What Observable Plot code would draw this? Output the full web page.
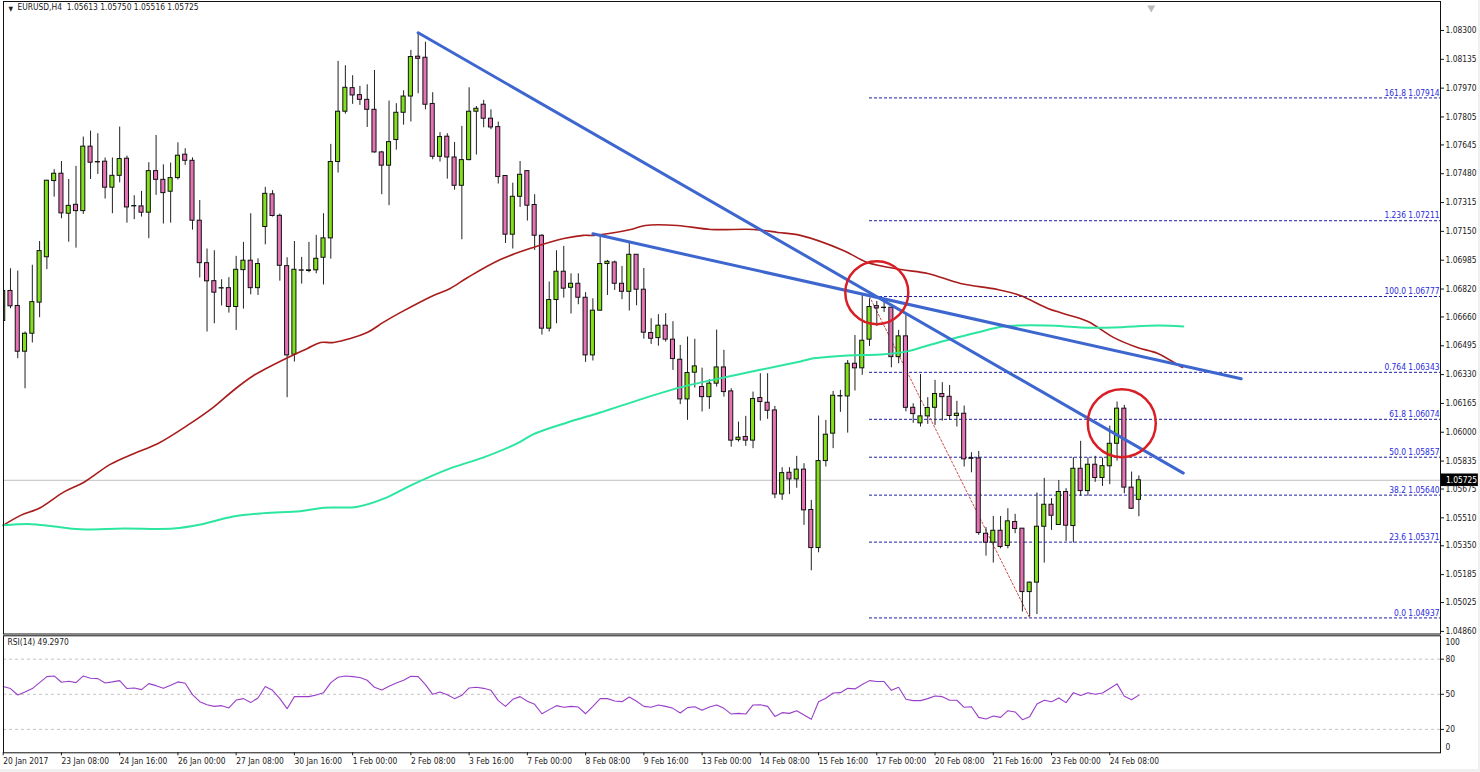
<!DOCTYPE html>
<html><head><meta charset="utf-8">
<script src="https://cdn.jsdelivr.net/npm/d3@7"></script>
<script src="https://cdn.jsdelivr.net/npm/@observablehq/plot@0.6"></script>
<style>
html,body{margin:0;padding:0;background:#f0f0f0;width:1480px;height:772px;overflow:hidden}
#chart{position:absolute;left:0;top:0;width:1478px;height:769px;background:#fff}
#chart svg{display:block;position:absolute;left:0}
</style></head><body><div id="chart"></div>
<script>
// Prices in points (1e-5), one entry per H4 bar
const opens=[106637,106809,106723,106461,106564,106742,107002,107438,107480,107251,107302,107266,107635,107547,107549,107400,107468,107566,107295,107293,107257,107495,107445,107377,107455,107589,107554,107211,106968,106865,106825,106825,106717,106928,106982,106825,107175,107362,107239,106951,106444,106927,106927,106927,106999,107110,107547,107835,107970,107930,107903,107846,107602,107526,107673,107829,107922,108150,108144,107879,107577,107692,107573,107411,107558,107835,107875,107795,107747,107467,107131,107348,107495,107301,107125,106593,106757,106919,106827,106850,106770,106440,106696,106963,106972,106850,106804,107016,106816,106568,106539,106610,106530,106415,106188,106341,106259,106201,106278,106371,106234,105955,105973,105952,106196,106169,106125,105644,105768,105730,105786,105555,105337,105835,105992,106207,106205,106392,106366,106530,106722,106713,106713,106430,106549,106140,106051,106091,106140,106219,106203,106093,106106,105852,105850,105419,105368,105436,105349,105486,105448,105085,105139,105459,105585,105469,105658,105463,105791,105663,105814,105738,105805,105934,106135,105683,105613];
const highs=[106873,106936,106923,106574,106956,107092,107442,107503,107550,107447,107522,107690,107724,107709,107570,107570,107747,107581,107354,107379,107543,107699,107531,107541,107657,107623,107571,107327,107049,107039,106873,106885,107007,107087,107251,106993,107402,107383,107249,106999,107092,107001,107087,107127,107251,107648,108123,108098,108041,107980,107989,108071,107608,107896,107881,107955,108186,108287,108233,107944,107715,107709,107659,107751,107972,107865,107900,107846,107776,107468,107426,107550,107497,107360,107131,106860,107039,107064,106907,106907,106799,106764,107127,106984,106980,106949,107083,107018,106938,106650,106673,106679,106633,106497,106545,106532,106367,106301,106585,106469,106249,106058,106091,106230,106335,106335,106148,105797,105797,105862,105820,105610,106093,106068,106234,106240,106411,106554,106783,106764,106749,106745,106717,106583,106669,106163,106331,106198,106297,106284,106268,106177,106150,105883,105890,105454,105518,105518,105562,105530,105448,105143,105652,105736,105620,105724,105677,105854,105948,105854,105862,105852,106035,106173,106154,105772,105750];
const lows=[106516,106707,106421,106249,106511,106656,106931,107346,107222,107088,107054,107247,107447,107476,107335,107251,107428,107197,107217,107232,107108,107356,107192,107197,107444,107528,107157,106883,106574,106621,106723,106682,106583,106705,106787,106783,107073,107232,106865,106198,106402,106848,106913,106907,106843,106991,107484,107821,107877,107871,107745,107598,107360,107297,107615,107758,107776,107938,107846,107560,107547,107449,107386,107102,107554,107587,107743,107732,107421,107081,107049,107287,107209,107041,106556,106574,106621,106768,106677,106730,106400,106408,106694,106783,106812,106759,106694,106724,106533,106503,106493,106516,106354,106158,106068,106253,106116,106131,106259,106201,105915,105944,105919,105906,106064,106074,105620,105610,105644,105679,105467,105207,105310,105801,105906,106114,105995,106236,106326,106491,106606,106686,106369,106392,106117,106051,106030,106045,106039,106064,106068,106030,105801,105768,105410,105291,105251,105333,105333,105419,104971,104942,104956,105251,105438,105469,105375,105366,105633,105633,105713,105690,105700,105835,105648,105558,105516];
const closes=[106809,106721,106461,106564,106745,107037,107440,107480,107253,107296,107266,107635,107543,107545,107400,107468,107564,107287,107293,107257,107495,107445,107369,107455,107583,107554,107211,106968,106864,106799,106823,106717,106930,106982,106825,106963,107365,107238,106953,106440,106930,106925,106923,106993,107110,107547,107835,107972,107928,107903,107846,107602,107526,107661,107829,107922,108148,108138,107875,107577,107690,107573,107411,107558,107835,107852,107795,107745,107461,107131,107348,107474,107297,107125,106593,106757,106919,106822,106850,106770,106440,106696,106963,106976,106850,106804,107016,106816,106570,106535,106610,106530,106419,106188,106339,106377,106201,106278,106371,106230,105952,105969,105952,106190,106173,106123,105644,105766,105730,105786,105553,105337,105835,105986,106209,106205,106392,106366,106524,106717,106709,106711,106430,106549,106140,106104,106091,106139,106219,106201,106093,106106,105845,105848,105423,105368,105436,105343,105490,105446,105085,105139,105459,105585,105522,105658,105465,105791,105663,105814,105738,105806,105934,106135,105683,105562,105725];
const rsi=[56.6,54.9,49.4,52.0,54.9,60.0,65.1,65.7,60.3,61.1,60.0,65.7,63.7,63.4,59.7,60.6,61.7,54.9,55.4,54.0,59.1,57.4,55.1,57.7,60.6,59.4,49.7,43.7,41.1,39.7,40.3,38.3,45.1,46.3,42.9,46.9,56.6,53.4,46.3,37.7,48.0,48.0,48.0,49.4,51.4,60.0,64.6,65.7,65.1,64.3,62.0,56.0,53.7,56.9,59.7,62.0,65.4,65.1,58.3,50.0,52.0,49.7,46.3,49.1,55.4,56.0,55.1,53.4,44.6,39.7,45.7,48.0,44.0,41.4,33.4,36.9,40.3,38.9,39.7,39.1,33.4,39.7,46.3,46.3,44.3,43.7,47.7,44.0,39.7,38.9,40.9,39.7,38.0,34.0,38.6,39.4,36.3,39.1,40.9,38.0,33.1,33.7,33.1,40.9,41.1,39.7,31.1,34.3,33.7,36.0,32.3,28.6,43.7,46.6,51.1,51.4,55.1,54.6,58.3,61.7,60.9,60.9,53.4,56.0,45.7,44.6,44.6,46.3,48.6,48.0,44.9,44.9,38.9,39.4,30.3,28.9,31.4,30.3,36.0,34.9,28.3,30.9,41.7,44.9,43.7,46.9,42.9,51.4,48.9,51.4,50.0,51.1,54.9,58.9,48.3,45.4,49.297];

// Moving averages: bar position, price in points
const redMaBars=[0,2.4,5.1,8.3,11.1,14.7,17.9,21.2,25.3,28.9,31.6,34.4,39.1,41.8,43.6,45.4,50,52.2,54.6,59.1,61.4,63.8,68.3,72.8,77,79.7,81.1,86.2,88.2,92.6,97.2,103.1,106.4,109.5,115.4,118.7,123.3,127,131.5,136.6,139.7,143.5,145.6,149,152.5,155.8,158.6,161.5,162];
const redMaPrices=[105467,105524,105568,105657,105714,105816,105877,105934,106039,106144,106239,106325,106428,106480,106514,106514,106571,106629,106686,106783,106823,106886,106989,107058,107109,107127,107127,107161,107184,107184,107161,107161,107144,107127,107041,106972,106932,106909,106852,106817,106783,106709,106680,106634,106543,106485,106451,106382,106371];
const greenMaBars=[0,3.8,6.5,10.6,16.5,23.4,27.1,31.6,35.8,40.8,44,48.7,52.8,56,61.4,66,70.6,72.8,77.5,82,88,93,100.3,109.5,111.3,116,120.5,124.2,127,130.5,133.8,137.4,143.5,148,152.5,158.6,162.1];
const greenMaPrices=[105467,105474,105463,105444,105449,105449,105472,105518,105537,105548,105568,105574,105629,105696,105793,105856,105936,105988,106056,106113,106194,106257,106325,106405,106423,106440,106445,106463,106497,106537,106571,106606,106611,106600,106600,106611,106606];

const fibValues=[1.07914,1.07211,1.06777,1.06343,1.06074,1.05857,1.05640,1.05371,1.04937];
const fibLabels=["161.8 1.07914","1.236 1.07211","100.0 1.06777","0.764 1.06343","61.8 1.06074","50.0 1.05857","38.2 1.05640","23.6 1.05371","0.0 1.04937"];
const fibStartBar=119;
const priceTicks=[1.083,1.08135,1.0797,1.07805,1.07645,1.0748,1.07315,1.0715,1.06985,1.0682,1.0666,1.06495,1.0633,1.06165,1.06,1.05835,1.05675,1.0551,1.0535,1.05185,1.05025,1.0486];
const timeLabels=["20 Jan 2017","23 Jan 08:00","24 Jan 16:00","26 Jan 00:00","27 Jan 08:00","30 Jan 16:00","1 Feb 00:00","2 Feb 08:00","3 Feb 16:00","7 Feb 00:00","8 Feb 08:00","9 Feb 16:00","13 Feb 00:00","14 Feb 08:00","15 Feb 16:00","17 Feb 00:00","20 Feb 08:00","21 Feb 16:00","23 Feb 00:00","24 Feb 08:00"];
const trendLines=[[{b:57,p:1.08287},{b:162.1,p:1.05766}],[{b:81,p:1.07136},{b:170.05,p:1.06306}]];
const fibDiagonal=[{b:119,p:1.06777},{b:141,p:1.04937}];
const circles=[{b:120,p:1.06799,r:31.5},{b:153.65,p:1.06052,r:34}];
const lastPrice=1.05725;
const headerText="EURUSD,H4  1.05613 1.05750 1.05516 1.05725";
const rsiText="RSI(14) 49.2970";

const pts=v=>v/1e5;
const bars=opens.map((o,i)=>({i,o:pts(o),h:pts(highs[i]),l:pts(lows[i]),c:pts(closes[i])}));
const up=bars.filter(d=>d.c>=d.o), down=bars.filter(d=>d.c<d.o);
const series=(xs,ys)=>xs.map((b,k)=>({b,p:pts(ys[k])}));
const xDomain=[0.041,197.43], FONT="'DejaVu Sans Condensed','Liberation Sans',sans-serif";
const INK="#1a1a1a",FS="8.4px",FN=8.4;
const body=(data,fill)=>Plot.rect(data,{x1:d=>d.i-0.28,x2:d=>d.i+0.28,y1:"o",y2:"c",fill,stroke:"#111",strokeWidth:1,clip:true});

const main=Plot.plot({
  width:1478,height:634,marginTop:1,marginBottom:0.5,marginLeft:3,marginRight:38,
  style:{fontFamily:FONT,fontSize:FS,color:INK,background:"transparent",overflow:"visible"},
  x:{domain:xDomain,axis:null},
  y:{domain:[1.04845,1.08466],axis:null},
  marks:[
    Plot.ruleY([lastPrice],{stroke:"#c0c0c0",strokeWidth:1}),
    Plot.ruleY(fibValues,{x1:fibStartBar,x2:xDomain[1],stroke:"#1c1ca8",strokeWidth:1,strokeDasharray:"3,2"}),
    Plot.line(fibDiagonal,{x:"b",y:"p",stroke:"#d04a4a",strokeWidth:1,strokeDasharray:"2,2"}),
    Plot.ruleX(bars,{x:"i",y1:"l",y2:"h",stroke:"#222",strokeWidth:1,clip:true}),
    body(up,"#82e01a"),
    body(down,"#e472b4"),
    Plot.line(series(redMaBars,redMaPrices),{x:"b",y:"p",stroke:"#a81c1c",strokeWidth:1.6,curve:"catmull-rom"}),
    Plot.line(series(greenMaBars,greenMaPrices),{x:"b",y:"p",stroke:"#2ce6a0",strokeWidth:2,curve:"catmull-rom"}),
    ...trendLines.map(t=>Plot.line(t,{x:"b",y:"p",stroke:"#3d66cf",strokeWidth:3})),
    ...circles.map(c=>Plot.dot([c],{x:"b",y:"p",r:c.r,stroke:"#d81f26",strokeWidth:2.5,fill:"none"})),
    Plot.text(fibValues,{y:d=>d,x:xDomain[1],text:(d,i)=>fibLabels[i],textAnchor:"end",dx:-1,dy:-5,fill:"#2a2ae0",fontSize:FN}),
    Plot.rect([lastPrice],{x1:xDomain[1]+0.12,x2:xDomain[1]+5.2,y1:d=>d-0.00036,y2:d=>d+0.00036,fill:"#000"}),
    Plot.axisY({ticks:priceTicks,anchor:"right",tickSize:3,tickPadding:2,tickFormat:d3.format(".5f"),label:null,stroke:INK,fill:INK}),
    Plot.text([lastPrice],{x:xDomain[1],y:d=>d,text:d=>d.toFixed(5),textAnchor:"start",dx:5.5,fill:"#fff",fontSize:FN}),
    Plot.frame({stroke:"#111",strokeWidth:1}),
    Plot.dot([157.7],{x:d=>d,y:1.0843,symbol:"triangle",r:3,fill:"#bbb",rotate:180}),
    Plot.text(["▼"],{frameAnchor:"top-left",dx:5,dy:5,fontSize:6.5,fill:"#222"}),
    Plot.text([headerText],{frameAnchor:"top-left",dx:14,dy:3,fill:INK,fontSize:FN})
  ]
});
main.style.top="0px";

const tickBars=timeLabels.map((_,k)=>k*8);
const rsiPlot=Plot.plot({
  width:1478,height:135,marginTop:1.3,marginBottom:16.7,marginLeft:3,marginRight:38,
  style:{fontFamily:FONT,fontSize:FS,color:INK,background:"transparent",overflow:"visible"},
  x:{domain:xDomain,axis:null},
  y:{domain:[0,100],axis:null},
  marks:[
    Plot.ruleY([80,50,20],{stroke:"#c4c4c4",strokeWidth:1,strokeDasharray:"3,3"}),
    Plot.line(rsi,{x:(d,i)=>i,y:d=>d,stroke:"#9a3fc8",strokeWidth:1.1}),
    Plot.axisY({ticks:[80,50,20],anchor:"right",tickSize:3,tickPadding:2,label:null,stroke:INK,fill:INK}),
    Plot.text([100],{x:xDomain[1],y:d=>d,text:d=>String(d),textAnchor:"start",dx:5,dy:6.5,fill:INK,fontSize:FN}),
    Plot.text([0],{x:xDomain[1],y:d=>d,text:d=>String(d),textAnchor:"start",dx:5,dy:-5.5,fill:INK,fontSize:FN}),
    Plot.axisX({ticks:tickBars,anchor:"bottom",tickSize:3,tickPadding:2,textAnchor:"start",tickFormat:b=>timeLabels[b/8],label:null,stroke:INK,fill:INK}),
    Plot.frame({stroke:"#111",strokeWidth:1}),
    Plot.text([rsiText],{frameAnchor:"top-left",dx:4,dy:3,fill:INK,fontSize:FN})
  ]
});
rsiPlot.style.top="634px";
document.getElementById("chart").append(main,rsiPlot);
</script></body></html>
